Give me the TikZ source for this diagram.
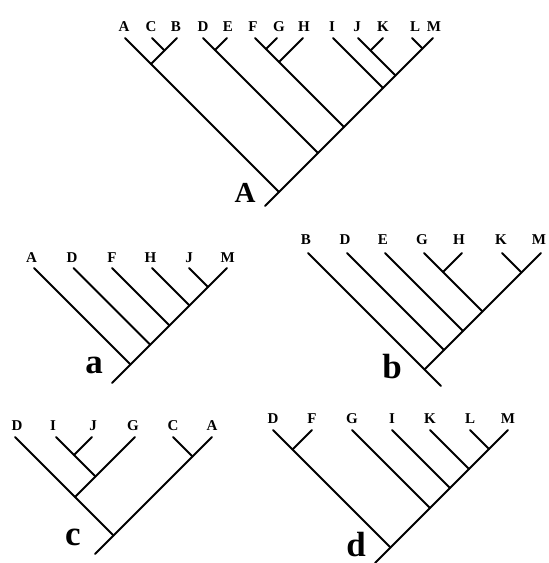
\documentclass[tikz,border=0pt]{standalone}
\usepackage{fontspec}
\setmainfont{Liberation Serif}
\begin{document}
\begin{tikzpicture}[x=1pt,y=-1pt,
  branch/.style={line width=2.1pt,line cap=round},
  leaf/.style={font=\fontsize{15}{15}\selectfont\bfseries,anchor=base,inner sep=0pt},
  treename/.style={font=\fontsize{35}{35}\selectfont\bfseries,anchor=base,inner sep=0pt},
  treenameA/.style={font=\fontsize{29}{29}\selectfont\bfseries,anchor=base,inner sep=0pt}]
\useasboundingbox (0,0) rectangle (549,563);
% ---------- Tree A ----------
\foreach \n/\x in {A/125,C/152,B/177,D/203,E/227,F/255,G/277,H/303,I/333,J/358,K/383,L/412,M/433}
  \coordinate (T\n) at (\x,38);
\foreach \n/\x in {A/124,C/151,B/176,D/203,E/228,F/253,G/279,H/304,I/332,J/357,K/383,L/415,M/434}
  \node[leaf] (lab\n) at (\x,31) {\n};
\coordinate (TCB) at (164.5,50.5);
\coordinate (TACB) at (151,64);
\coordinate (TDE) at (215,50);
\coordinate (TFG) at (266,49);
\coordinate (TFGH) at (279,62);
\coordinate (TJK) at (370.5,50.5);
\coordinate (TnL) at (422.5,48.5);
\coordinate (TnJ) at (395.5,75.5);
\coordinate (TnI) at (383,88);
\coordinate (TnF) at (344,127);
\coordinate (TnD) at (318,153);
\coordinate (Troot) at (279,192);
\coordinate (Ttail) at (265,206);
\draw[branch] (TA) -- (Troot);
\draw[branch] (TC) -- (TCB);
\draw[branch] (TB) -- (TACB);
\draw[branch] (TD) -- (TnD);
\draw[branch] (TE) -- (TDE);
\draw[branch] (TF) -- (TnF);
\draw[branch] (TG) -- (TFG);
\draw[branch] (TH) -- (TFGH);
\draw[branch] (TI) -- (TnI);
\draw[branch] (TJ) -- (TnJ);
\draw[branch] (TK) -- (TJK);
\draw[branch] (TL) -- (TnL);
\draw[branch] (TM) -- (Ttail);
\node[treenameA] (nameA) at (245,202) {A};
% ---------- Tree a ----------
\foreach \n/\x in {A/34,D/73.5,F/112,H/152,J/189,M/227}
  \coordinate (a\n) at (\x,268);
\foreach \n/\x in {A/31.5,D/72,F/112,H/150.5,J/189,M/227.6}
  \node[leaf] (alab\n) at (\x,262) {\n};
\coordinate (aroot) at (130.5,364.5);
\coordinate (anD) at (150.25,344.75);
\coordinate (anF) at (169.5,325.5);
\coordinate (anH) at (189.5,305.5);
\coordinate (anJ) at (208,287);
\coordinate (atail) at (112,383);
\draw[branch] (aA) -- (aroot);
\draw[branch] (aD) -- (anD);
\draw[branch] (aF) -- (anF);
\draw[branch] (aH) -- (anH);
\draw[branch] (aJ) -- (anJ);
\draw[branch] (aM) -- (atail);
\node[treename] (namea) at (94,373) {a};
% ---------- Tree b ----------
\foreach \n/\x in {B/308,D/347,E/385,G/424,H/462,K/502,M/541}
  \coordinate (b\n) at (\x,253);
\foreach \n/\x in {B/306,D/345,E/383,G/422,H/459,K/501,M/539}
  \node[leaf] (blab\n) at (\x,244) {\n};
\coordinate (bGH) at (443,272);
\coordinate (bKM) at (521.5,272.5);
\coordinate (bnD) at (444,350);
\coordinate (bnE) at (463,331);
\coordinate (bnG) at (482.5,311.5);
\coordinate (broot) at (424.5,369.5);
\coordinate (btail) at (441,386);
\draw[branch] (bB) -- (btail);
\draw[branch] (bD) -- (bnD);
\draw[branch] (bE) -- (bnE);
\draw[branch] (bG) -- (bnG);
\draw[branch] (bH) -- (bGH);
\draw[branch] (bK) -- (bKM);
\draw[branch] (bM) -- (broot);
\node[treename] (nameb) at (392,378) {b};
% ---------- Tree c ----------
\foreach \n/\x in {D/15,I/56,J/92,G/135,C/173,A/212}
  \coordinate (c\n) at (\x,437);
\foreach \n/\x in {D/17,I/53,J/93,G/133,C/173,A/212}
  \node[leaf] (clab\n) at (\x,430) {\n};
\coordinate (cIJ) at (74,455);
\coordinate (cIJG) at (95.5,476.5);
\coordinate (cDG) at (75,497);
\coordinate (cCA) at (192.5,456.5);
\coordinate (croot) at (113.5,535.5);
\coordinate (ctail) at (95,554);
\draw[branch] (cD) -- (croot);
\draw[branch] (cI) -- (cIJG);
\draw[branch] (cJ) -- (cIJ);
\draw[branch] (cG) -- (cDG);
\draw[branch] (cC) -- (cCA);
\draw[branch] (cA) -- (ctail);
\node[treename] (namec) at (73,545) {c};
% ---------- Tree d ----------
\foreach \n/\x in {D/273,F/312,G/352,I/392,K/430,L/470,M/508}
  \coordinate (d\n) at (\x,430);
\foreach \n/\x in {D/273,F/312,G/352,I/392,K/430,L/470,M/508}
  \node[leaf] (dlab\n) at (\x,423) {\n};
\coordinate (dDF) at (292.5,449.5);
\coordinate (dLM) at (489,449);
\coordinate (dnK) at (469,469);
\coordinate (dnI) at (450,488);
\coordinate (dnG) at (430,508);
\coordinate (droot) at (390.5,547.5);
\coordinate (dtail) at (375,563);
\draw[branch] (dD) -- (droot);
\draw[branch] (dF) -- (dDF);
\draw[branch] (dG) -- (dnG);
\draw[branch] (dI) -- (dnI);
\draw[branch] (dK) -- (dnK);
\draw[branch] (dL) -- (dLM);
\draw[branch] (dM) -- (dtail);
\node[treename] (named) at (356,556) {d};
\end{tikzpicture}
\end{document}
